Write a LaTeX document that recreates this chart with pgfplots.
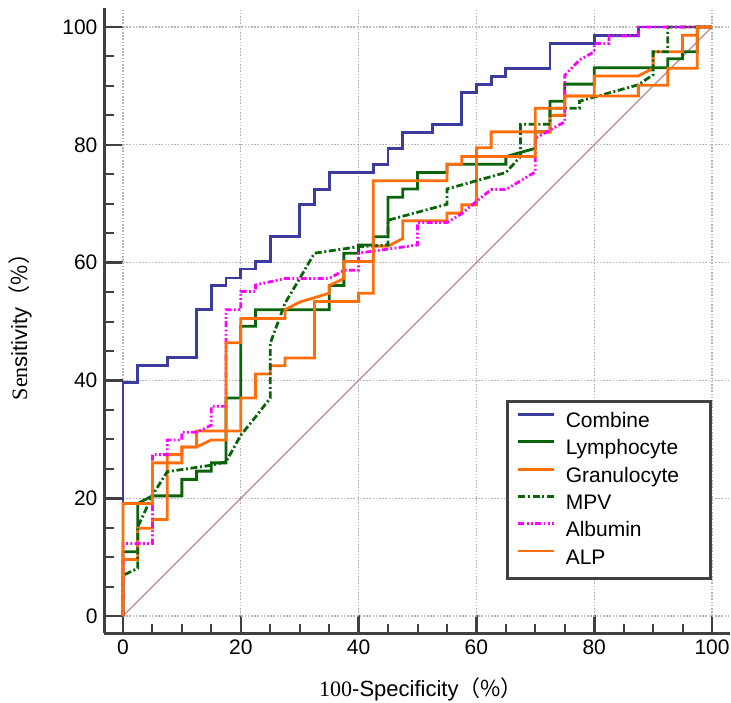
\documentclass[border=0pt]{standalone}
\usepackage{fontspec}
\setmainfont{Liberation Sans}
\newfontfamily\serifff{Liberation Serif}
\newfontfamily\cjk{Noto Sans CJK SC}
\usepackage{pgfplots}
\pgfplotsset{compat=1.18}
\definecolor{cblue}{HTML}{3C3C9E}
\definecolor{cgreen}{HTML}{0A640A}
\definecolor{corange}{HTML}{FF6E0A}
\definecolor{cmag}{HTML}{FF00FF}
\definecolor{cdiag}{HTML}{B98A8A}
\definecolor{axc}{HTML}{404040}
\definecolor{gridc}{HTML}{B4B4B4}
\newcommand{\lent}[1]{\makebox[67.5pt][l]{#1}}

\begin{document}
\begin{tikzpicture}
\path[use as bounding box] (-52.25pt,-34.5pt) rectangle (313.25pt,316.5pt);
\begin{axis}[
    at={(0,0)}, anchor=south west,
    scale only axis, width=312.5pt, height=312.5pt,
    xmin=-3.14, xmax=102.97, ymin=-2.886, ymax=103.23,
    axis x line*=bottom, axis y line*=left,
    axis line style={-, line width=1.5pt, draw=axc},
    xtick={0,20,...,100}, ytick={0,20,...,100},
    minor tick num=3,
    tick align=inside,
    major tick length=9pt, minor tick length=4.5pt,
    every major tick/.append style={line width=1.3pt, draw=axc},
    every minor tick/.append style={line width=1pt, draw=axc},
    tick label style={font=\fontsize{10.5}{12}\selectfont},
    /pgf/number format/assume math mode=true,
    xlabel={{\serifff 100}-Specificity{\cjk（\%）}},
    ylabel={{\serifff Sen}sitivity{\cjk（\%）}},
    label style={font=\fontsize{11}{13}\selectfont},
    xlabel style={at={(axis description cs:0.5064,-0.0896)}, anchor=center},
    ylabel style={at={(axis description cs:-0.1352,0.4984)}, anchor=center},
    legend cell align=left,
    legend image code/.code={\draw[#1] (0pt,3.5pt) -- (18pt,3.5pt);},
    legend style={at={(0.6424,0.3728)}, anchor=north west, draw=axc,
        line width=1.5pt, fill=white, inner xsep=4.75pt, inner ysep=5pt,
        row sep=3.65pt, column sep=5pt,
        font=\fontsize{10.5}{12}\selectfont,
        nodes={inner sep=0pt, text height=8pt, text depth=2pt}},
]
\pgfplotsinvokeforeach{0,20,40,60,80,100}{
  \draw[gridc, line width=0.6pt, dash pattern=on 0.8pt off 0.8pt] (axis cs:#1,0) -- (axis cs:#1,103.23);
  \draw[gridc, line width=0.6pt, dash pattern=on 0.8pt off 0.8pt] (axis cs:0,#1) -- (axis cs:102.97,#1);
}
\addplot[cdiag, line width=0.6pt, forget plot] coordinates {(0,0) (100,100)};

% Combine
\addplot[cblue, line width=1.4pt] coordinates {
(0,0) (0,39.7) (2.5,39.7) (2.5,42.5) (7.5,42.5) (7.5,43.9) (12.5,43.9) (12.5,52.0)
(15,52.0) (15,56.1) (17.5,56.1) (17.5,57.4) (20,57.4) (20,58.9) (22.5,58.9) (22.5,60.2)
(25,60.2) (25,64.4) (30,64.4) (30,69.9) (32.5,69.9) (32.5,72.4) (35,72.4) (35,75.3)
(42.5,75.3) (42.5,76.7) (45,76.7) (45,79.4) (47.5,79.4) (47.5,82.1) (52.5,82.1) (52.5,83.5)
(57.5,83.5) (57.5,88.9) (60,88.9) (60,90.3) (62.5,90.3) (62.5,91.6) (65,91.6) (65,93.0)
(72.5,93.0) (72.5,97.2) (80,97.2) (80,98.5) (87.5,98.5) (87.5,100) (100,100)};
\addlegendentry{\lent{Combine}}

% Lymphocyte
\addplot[cgreen, line width=1.4pt] coordinates {
(0,0) (0,10.9) (2.5,10.9) (2.5,19.1) (5,20.4) (10,20.4) (10,23.2) (12.5,23.2) (12.5,24.6)
(15,24.6) (15,26.0) (17.5,26.0) (17.5,37.0) (20,37.0) (20,49.2) (22.5,49.2) (22.5,52.0)
(35,52.0) (35,56.1) (37.5,56.1) (37.5,61.6) (40,61.6) (40,63.0) (42.5,63.0) (42.5,64.4)
(45,64.4) (45,71.1) (47.5,71.1) (47.5,72.5) (50,72.5) (50,75.3) (55,75.3) (55,76.7)
(65,76.7) (65,78.0) (70,79.4) (70,82.2) (72.5,82.2) (72.5,87.4) (75,87.4) (75,90.3)
(80,90.3) (80,93.1) (92.5,93.1) (92.5,94.6) (95,94.6) (95,95.8) (97.5,95.8) (97.5,100) (100,100)};
\addlegendentry{\lent{Lymphocyte}}

% Granulocyte
\addplot[corange, line width=1.4pt] coordinates {
(0,0) (0,9.6) (2.5,9.6) (2.5,14.9) (5,14.9) (5,16.4) (7.5,16.4) (7.5,27.4) (10,27.4)
(10,28.7) (12.5,28.7) (12.5,31.4) (20,31.4) (20,37.0) (22.5,37.0) (22.5,41.1) (25,41.1)
(25,42.5) (27.5,42.5) (27.5,43.8) (32.5,43.8) (32.5,53.4) (40,53.4) (40,54.8) (42.5,54.8)
(42.5,62.8) (45,62.8) (47.5,64.1) (47.5,67.1) (55,67.1) (55,68.4) (57.5,68.4) (57.5,69.8)
(60,69.8) (60,79.5) (62.5,79.5) (62.5,82.2) (72.5,82.2) (72.5,85.0) (75,85.0) (75,88.3)
(80,88.3) (80,91.7) (87.5,91.7) (90,93.0) (90,95.8) (95,95.8) (95,98.6) (97.5,98.6)
(97.5,100) (100,100)};
\addlegendentry{\lent{Granulocyte}}

% MPV
\addplot[cgreen, line width=1.4pt, dash pattern=on 3.5pt off 1.3pt on 1pt off 1.3pt] coordinates {
(0,0) (0,6.9) (2.5,8.1) (2.5,15.1) (5,20.5) (7.5,24.5) (15,25.6) (17.5,26.2) (20,30.7)
(22.5,33.8) (25,37.0) (25,46.3) (27.5,53.1) (30,57.3) (32.5,61.6) (40,62.7) (45,63.0)
(45,67.2) (55,69.9) (55,72.5) (65,75.3) (67.5,78.0) (67.5,83.5) (72.5,83.5) (72.5,86.2)
(77.5,86.2) (77.5,87.4) (87.5,90.2) (90,91.9) (90,95.8) (92.5,95.8) (92.5,100) (100,100)};
\addlegendentry{\lent{MPV}}

% Albumin
\addplot[cmag, line width=1.4pt, dash pattern=on 3pt off 1.2pt on 0.9pt off 1.2pt on 0.9pt off 1.2pt] coordinates {
(0,0) (0,12.3) (5,12.3) (5,27.4) (7.5,27.4) (7.5,29.9) (10,29.9) (10,31.2) (12.5,31.2)
(15,32.4) (15,35.6) (17.5,35.6) (17.5,52.0) (20,52.0) (20,55.1) (22.5,55.1) (22.5,56.2)
(27.5,57.3) (35,57.3) (37.5,58.7) (40,58.7) (40,61.6) (50,63.0) (50,66.8) (55,66.8)
(57.5,68.3) (60,70.4) (62.5,72.4) (65,72.4) (70,75.4) (70,81.1) (75,83.9) (75,91.8)
(77.5,94.4) (80,95.8) (80,97.2) (82.5,97.2) (82.5,98.5) (87.5,98.5) (87.5,100) (100,100)};
\addlegendentry{\lent{Albumin}}

% ALP
\addplot[corange, line width=1.4pt] coordinates {
(0,0) (0,19.1) (5,19.1) (5,26.0) (10,26.0) (10,28.7) (12.5,28.7) (15,29.9) (17.5,29.9)
(17.5,46.4) (20,46.4) (20,50.5) (27.5,50.5) (27.5,52.0) (30,53.3) (35,54.8) (35,56.1)
(37.5,57.3) (37.5,60.2) (42.5,60.2) (42.5,73.9) (55,73.9) (55,76.7) (57.5,76.7) (57.5,78.0)
(70,78.0) (70,86.2) (75,86.2) (75,88.3) (87.5,88.3) (87.5,90.1) (92.5,90.1) (92.5,93.0)
(97.5,93.0) (97.5,100) (100,100)};
\addlegendentry{\lent{ALP}}
\end{axis}
\end{tikzpicture}
\end{document}
